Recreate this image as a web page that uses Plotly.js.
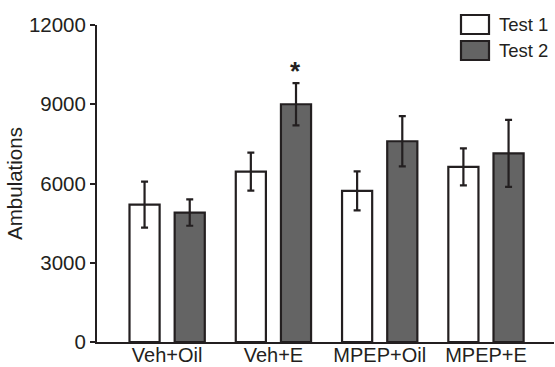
<!DOCTYPE html>
<html>
<head>
<meta charset="utf-8">
<script src="https://cdn.plot.ly/plotly-3.0.1.min.js"></script>
<style>html,body{margin:0;padding:0;background:#fff;}#chart{width:555px;height:367px;}</style>
</head>
<body>
<div id="chart"></div>
<script>
var categories = ["Veh+Oil", "Veh+E", "MPEP+Oil", "MPEP+E"];
var test1Values = [5200, 6450, 5720, 6630];
var test1Errors = [870, 720, 740, 700];
var test2Values = [4900, 9000, 7600, 7140];
var test2Errors = [500, 800, 950, 1270];
var yTicks = [0, 3000, 6000, 9000, 12000];
var seriesNames = ["Test 1", "Test 2"];

var ink = "#231f20";
var darkFill = "#646464";
var font = "Liberation Sans, Arial, sans-serif";

var traces = [
  {
    type: "bar", name: seriesNames[0], x: categories, y: test1Values,
    marker: {color: "#ffffff", line: {color: ink, width: 2.2}},
    error_y: {type: "data", array: test1Errors, visible: true, color: ink, thickness: 2.2, width: 3.5},
    showlegend: false
  },
  {
    type: "bar", name: seriesNames[1], x: categories, y: test2Values,
    marker: {color: darkFill, line: {color: ink, width: 2.2}},
    error_y: {type: "data", array: test2Errors, visible: true, color: ink, thickness: 2.2, width: 3.5},
    showlegend: false
  }
];

function px2paperX(p) { return (p - 97) / 457; }
function px2paperY(p) { return (342 - p) / 317; }

var layout = {
  width: 555, height: 367,
  margin: {l: 97, r: 1, t: 25, b: 25, pad: 0},
  paper_bgcolor: "#ffffff", plot_bgcolor: "#ffffff",
  barmode: "group", bargap: 0.15, bargroupgap: 0.333,
  font: {family: font, size: 20, color: ink},
  showlegend: false,
  xaxis: {
    type: "category", range: [-0.66, 3.64],
    showline: true, linecolor: ink, linewidth: 2,
    ticks: "", showgrid: false, zeroline: false,
    ticklabelstandoff: -6,
    tickfont: {family: font, size: 20, color: ink}
  },
  yaxis: {
    range: [0, 12000], tickvals: yTicks, ticktext: yTicks.map(String),
    showline: true, linecolor: ink, linewidth: 2,
    ticks: "outside", ticklen: 5, tickwidth: 2, tickcolor: ink,
    showgrid: false, zeroline: false,
    tickfont: {family: font, size: 20.5, color: ink},
    title: {text: "Ambulations", font: {family: font, size: 20.5, color: ink}, standoff: 1}
  },
  shapes: [
    {type: "rect", xref: "paper", yref: "paper",
     x0: px2paperX(461), x1: px2paperX(489), y0: px2paperY(34), y1: px2paperY(15),
     fillcolor: "#ffffff", line: {color: ink, width: 2.2}},
    {type: "rect", xref: "paper", yref: "paper",
     x0: px2paperX(461), x1: px2paperX(489), y0: px2paperY(60), y1: px2paperY(41),
     fillcolor: darkFill, line: {color: ink, width: 2.2}}
  ],
  annotations: [
    {xref: "paper", yref: "paper", x: px2paperX(497), y: px2paperY(24.5), xanchor: "left", yanchor: "middle",
     text: seriesNames[0], showarrow: false, font: {family: font, size: 18.5, color: ink}},
    {xref: "paper", yref: "paper", x: px2paperX(497), y: px2paperY(50.5), xanchor: "left", yanchor: "middle",
     text: seriesNames[1], showarrow: false, font: {family: font, size: 18.5, color: ink}},
    {xref: "x", yref: "y", x: categories[1], xshift: 22, y: 9620, yanchor: "bottom",
     text: "<b>*</b>", showarrow: false, font: {family: font, size: 26, color: ink}}
  ]
};

Plotly.newPlot("chart", traces, layout, {displayModeBar: false, staticPlot: true});
</script>
</body>
</html>
